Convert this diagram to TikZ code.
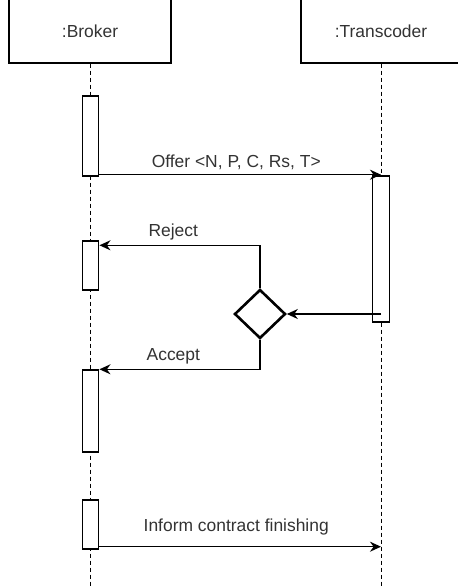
\documentclass[tikz,border=0pt]{standalone}
\usepackage{fontspec}
\setmainfont{Liberation Sans}
\usetikzlibrary{shapes.geometric, arrows.meta, positioning}

\begin{document}
\begin{tikzpicture}[x=1bp, y=-1bp, font=\fontsize{17.5}{20}\selectfont, text=black!80]
    \tikzstyle{actor} = [rectangle, draw=black, line width=1.3bp, minimum width=162bp, minimum height=64bp, inner sep=0pt]
    \tikzstyle{bar} = [rectangle, draw=black, fill=white, line width=1.4bp, minimum width=16.5bp, inner sep=0pt]
    \tikzstyle{life} = [line width=1bp, dash pattern=on 4bp off 3bp]
    \tikzstyle{msg} = [line width=1.5bp, -{Stealth[length=11bp,width=10bp]}]
    \tikzstyle{choice} = [diamond, draw=black, line width=2.6bp, minimum width=51bp, minimum height=49bp, inner sep=0pt, aspect=1]

    \useasboundingbox (0,0) rectangle (458,588);

    % lifeline heads
    \node (broker) [actor] at (90,31) {:Broker};
    \node (trans) [actor, minimum width=160bp] at (381,31) {:Transcoder};
    \coordinate (bl) at (90,592);
    \coordinate (tl) at (381,592);
    \draw [life] (broker.south) -- (bl);
    \draw [life] (trans.south) -- (tl);

    % activations
    \node (bar1) [bar, minimum height=80bp] at (90.5,136) {};
    \node (bar2) [bar, minimum height=49bp] at (90.5,265.5) {};
    \node (bar3) [bar, minimum height=82bp] at (90.5,411) {};
    \node (bar4) [bar, minimum height=49bp] at (90.5,524.5) {};
    \node (tbar) [bar, minimum height=146bp] at (381,249) {};
    \node (check) [choice] at (260,314) {};

    % messages
    \coordinate (offer) at ([yshift=2bp]bar1.south east);
    \coordinate (inform) at ([yshift=3bp]bar4.south east);
    \draw [msg] (offer) -- node[above=1bp, xshift=-4bp] {Offer <N, P, C, Rs, T>} (offer -| tl);
    \draw [msg] (tbar |- check.east) -- (check.east);
    \draw [msg] (check.north) |- node[pos=0.77, above=1bp] {Reject} ([yshift=-5bp]bar2.north east);
    \draw [msg] (check.south) |- node[pos=0.77, above=1bp] {Accept} (bar3.north east);
    \draw [msg] (inform) -- node[above=8bp, xshift=-4bp] {Inform contract finishing} (inform -| tl);
\end{tikzpicture}
\end{document}
